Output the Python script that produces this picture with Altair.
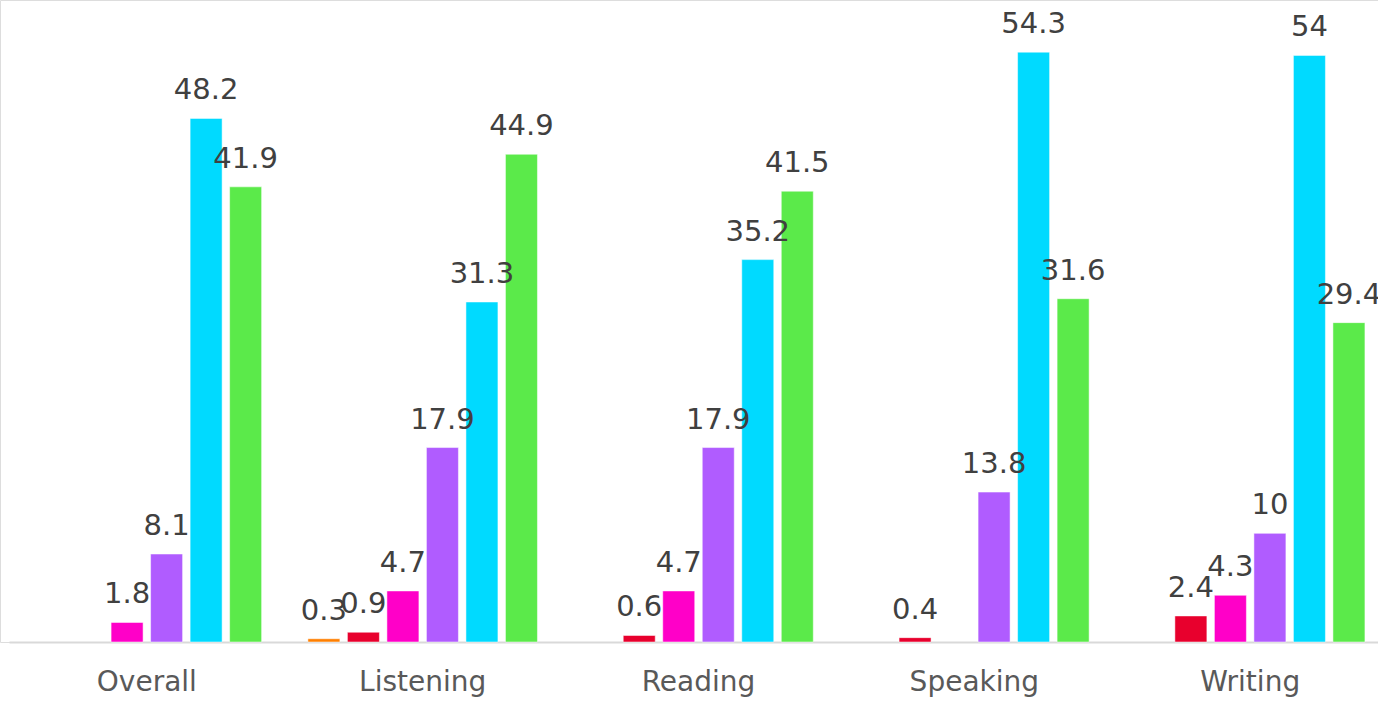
import altair as alt
import pandas as pd

categories = ["Overall", "Listening", "Reading", "Speaking", "Writing"]
series = ["S1", "S2", "S3", "S4", "S5", "S6"]
colors = ["#FF7F00", "#E8002D", "#FF00C8", "#B05CFF", "#00DAFF", "#5BEA4A"]

s1 = [None, 0.3, None, None, None]
s2 = [None, 0.9, 0.6, 0.4, 2.4]
s3 = [1.8, 4.7, 4.7, None, 4.3]
s4 = [8.1, 17.9, 17.9, 13.8, 10]
s5 = [48.2, 31.3, 35.2, 54.3, 54]
s6 = [41.9, 44.9, 41.5, 31.6, 29.4]

rows = []
for name, vals in zip(series, [s1, s2, s3, s4, s5, s6]):
    for c, v in zip(categories, vals):
        if v is not None:
            rows.append({"cat": c, "series": name, "value": v, "label": f"{v:g}"})
df = pd.DataFrame(rows)

x = alt.X("cat:N", sort=categories, title=None,
          scale=alt.Scale(range=[9, 1388], paddingInner=0.1405, paddingOuter=0.07),
          axis=alt.Axis(labelAngle=0, labelFontSize=28, labelFont="DejaVu Sans",
                        labelColor="#595959", labelPadding=26, ticks=False,
                        domainColor="#D9D9D9", domainWidth=2, grid=False))
xo = alt.XOffset("series:N", sort=series,
                 scale=alt.Scale(domain=series, paddingInner=0.19, paddingOuter=0.095))
y = alt.Y("value:Q", scale=alt.Scale(domain=[0, 59.1], nice=False, zero=True), axis=None)

base = alt.Chart(df).encode(x=x, xOffset=xo, y=y)

bars = base.mark_bar(stroke="white", strokeWidth=1, strokeOpacity=0.5).encode(
    color=alt.Color("series:N", scale=alt.Scale(domain=series, range=colors), legend=None)
)
labels = base.mark_text(fontSize=29, font="DejaVu Sans", color="#404040",
                        baseline="alphabetic", dy=-19).encode(text="label:N")

chart = (bars + labels).properties(
    width=1378, height=642,
    autosize=alt.AutoSizeParams(type="none"),
    padding={"left": 0, "top": 0, "right": 0, "bottom": 59},
).configure_view(stroke="transparent", strokeWidth=0).configure(background="white")

chart.save("out.html", embed_options={"renderer": "svg", "actions": False})
